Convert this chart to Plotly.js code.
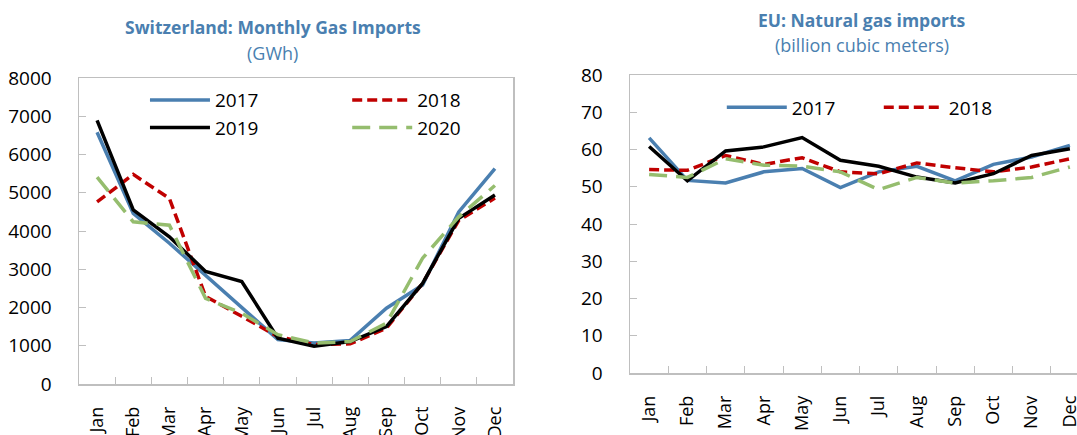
<!DOCTYPE html>
<html>
<head>
<meta charset="utf-8">
<script src="https://cdn.plot.ly/plotly-3.0.1.min.js"></script>
<style>
html,body{margin:0;padding:0;background:#fff;overflow:hidden;width:1077px;height:435px;}
#left{position:absolute;left:0;top:0;width:540px;height:435px;}
#right{position:absolute;left:540px;top:0;width:560px;height:435px;}
</style>
</head>
<body>
<div id="left"></div>
<div id="right"></div>
<script>
const months = ["Jan","Feb","Mar","Apr","May","Jun","Jul","Aug","Sep","Oct","Nov","Dec"];

// Switzerland monthly gas imports (GWh)
const ch2017 = [6580,4460,3680,2850,2020,1160,1070,1140,1980,2590,4500,5630];
const ch2018 = [4760,5480,4850,2290,1770,1240,1030,1050,1460,2630,4280,4860];
const ch2019 = [6890,4550,3850,2940,2680,1200,990,1110,1500,2630,4330,4940];
const ch2020 = [5410,4240,4150,2240,1850,1290,1070,1110,1590,3290,4370,5190];

// EU natural gas imports (billion cubic meters)
const eu2017 = [63.1,51.7,51.0,54.0,54.9,49.8,54.0,55.5,51.6,56.0,58.0,61.1];
const eu2018 = [54.6,54.4,58.4,56.0,57.8,54.0,53.5,56.4,55.1,54.0,55.3,57.5];
const eu2019 = [60.8,51.6,59.6,60.7,63.2,57.1,55.5,52.6,51.0,53.5,58.4,60.2];
const eu2020 = [53.3,52.5,57.5,55.8,55.5,54.0,49.2,52.5,51.0,51.6,52.5,55.3];

const years = ["2017","2018","2019","2020"];
const styles = [
  {color:"#4a7fb0", width:3.5, dash:"solid"},
  {color:"#c00000", width:3.5, dash:"10px,5px"},
  {color:"#000000", width:3.5, dash:"solid"},
  {color:"#95bd6e", width:3.5, dash:"18px,9px"}
];
const FONT = "'Open Sans', 'Noto Sans', sans-serif";
const titleColor = "#4a7fb0";

function traces(series, legendShown, legendIds) {
  return series.map((y, i) => ({
    x: months, y: y, type: "scatter", mode: "lines",
    name: years[i], line: styles[i], showlegend: legendShown[i],
    legend: legendIds[i]
  }));
}

function axisX() {
  return {
    type: "category", range: [-0.5, 11.5], autorange: false,
    showgrid: false, zeroline: false,
    showline: true, linecolor: "#bfbfbf", linewidth: 1.5, mirror: true,
    ticks: "inside", ticklen: 7, tickcolor: "#bfbfbf", tickwidth: 1,
    tickson: "boundaries", tickangle: -90, ticklabelstandoff: 14,
    tickfont: {family: FONT, size: 18, color: "#000"}
  };
}
function axisY(range, dtick) {
  return {
    range: range, dtick: dtick, showgrid: false, zeroline: false,
    showline: true, linecolor: "#bfbfbf", linewidth: 1.5, mirror: true,
    ticks: "inside", ticklen: 7, tickcolor: "#bfbfbf", tickwidth: 1,
    ticklabelstandoff: 22,
    tickfont: {family: FONT, size: 19, color: "#000"}
  };
}
function legendAt(x, y) {
  return {orientation: "v", x: x, y: y, xanchor: "left", yanchor: "top",
    itemwidth: 60, tracegroupgap: 0,
    font: {family: FONT, size: 19, color: "#000"}, bgcolor: "rgba(0,0,0,0)"};
}

Plotly.newPlot("left",
  traces([ch2017, ch2018, ch2019, ch2020], [true,true,true,true],
         ["legend","legend2","legend","legend2"]),
  {
    width: 540, height: 435,
    margin: {l: 79, r: 27, t: 78, b: 51},
    paper_bgcolor: "#fff", plot_bgcolor: "#fff",
    font: {family: FONT},
    xaxis: axisX(),
    yaxis: axisY([0, 8000], 1000),
    showlegend: true,
    legend: legendAt(0.152, 0.99),
    legend2: legendAt(0.618, 0.99),
    annotations: [
      {xref: "paper", yref: "paper", x: 0.447, y: 1.167, yanchor: "middle", showarrow: false,
       text: "<b>Switzerland: Monthly Gas Imports</b>",
       font: {family: FONT, size: 17.5, color: titleColor}},
      {xref: "paper", yref: "paper", x: 0.447, y: 1.082, yanchor: "middle", showarrow: false,
       text: "(GWh)", font: {family: FONT, size: 18, color: titleColor}}
    ]
  },
  {staticPlot: true}
);

Plotly.newPlot("right",
  traces([eu2017, eu2018, eu2019, eu2020], [true,true,false,false],
         ["legend","legend2","legend","legend2"]),
  {
    width: 560, height: 435,
    margin: {l: 90, r: 11, t: 75, b: 62},
    paper_bgcolor: "#fff", plot_bgcolor: "#fff",
    font: {family: FONT},
    xaxis: axisX(),
    yaxis: axisY([0, 80], 10),
    showlegend: true,
    legend: legendAt(0.2, 0.955),
    legend2: legendAt(0.542, 0.955),
    annotations: [
      {xref: "paper", yref: "paper", x: 0.505, y: 1.185, yanchor: "middle", showarrow: false,
       text: "<b>EU: Natural gas imports</b>",
       font: {family: FONT, size: 17.5, color: titleColor}},
      {xref: "paper", yref: "paper", x: 0.505, y: 1.10, yanchor: "middle", showarrow: false,
       text: "(billion cubic meters)", font: {family: FONT, size: 18, color: titleColor}}
    ]
  },
  {staticPlot: true}
);
</script>
</body>
</html>
